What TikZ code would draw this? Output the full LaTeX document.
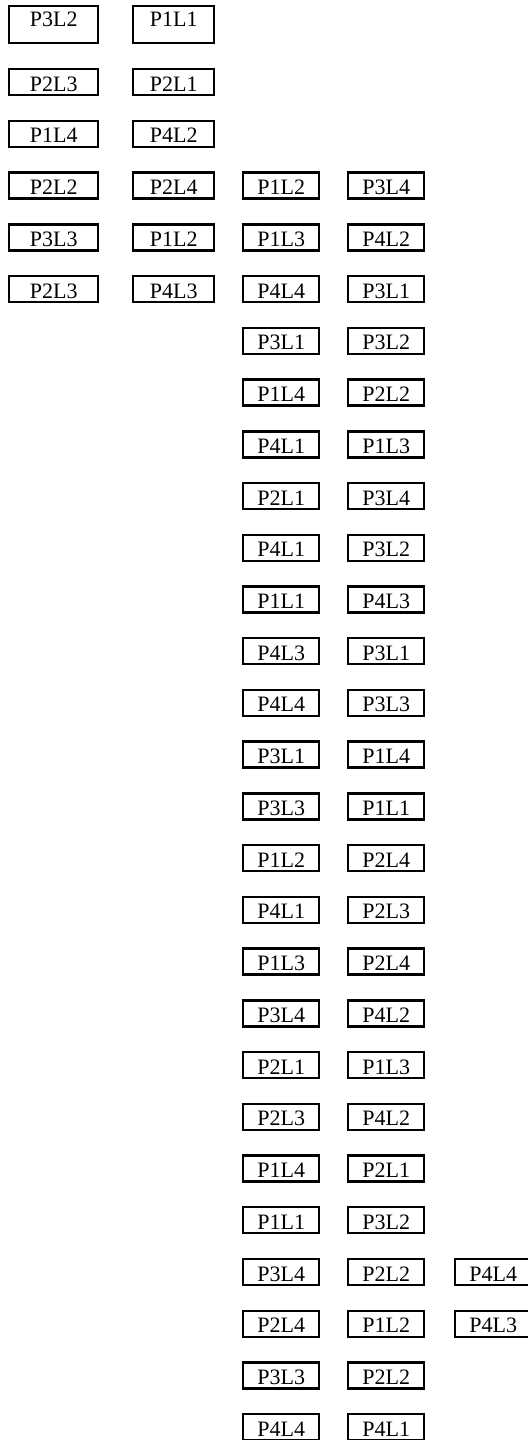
\documentclass[tikz,border=0pt]{standalone}
\usepackage{fontspec}
\setmainfont{Liberation Serif}
\begin{document}
\begin{tikzpicture}[x=0.5pt, y=-0.5pt,
    casilla/.style={draw, line width=1.2pt, inner sep=0pt, anchor=north west,
      text height=11pt, text depth=2pt, font=\fontsize{11}{13}\selectfont},
    primera/.style={casilla, text height=10pt, text depth=8.5pt}]
  \useasboundingbox (0,0) rectangle (527,1440);
  % fila de arriba, mas alta
  \node[primera, minimum width=44.5pt] (a1) at (8,5) {P3L2};
  \node[primera, minimum width=40.5pt] (b1) at (132,5) {P1L1};
  % columnas 1 y 2
  \foreach \p/\q [count=\i from 2] in {P2L3/P2L1, P1L4/P4L2, P2L2/P2L4,
      P3L3/P1L2, P2L3/P4L3} {
    \node[casilla, minimum width=44.5pt] (a\i) at (8,{68+(\i-2)*51.73}) {\p};
    \node[casilla, minimum width=40.5pt] (b\i) at (132,{68+(\i-2)*51.73}) {\q};
  }
  % columnas 3 y 4
  \foreach \p/\q [count=\i from 4] in {P1L2/P3L4, P1L3/P4L2, P4L4/P3L1,
      P3L1/P3L2, P1L4/P2L2, P4L1/P1L3, P2L1/P3L4, P4L1/P3L2, P1L1/P4L3,
      P4L3/P3L1, P4L4/P3L3, P3L1/P1L4, P3L3/P1L1, P1L2/P2L4, P4L1/P2L3,
      P1L3/P2L4, P3L4/P4L2, P2L1/P1L3, P2L3/P4L2, P1L4/P2L1, P1L1/P3L2,
      P3L4/P2L2, P2L4/P1L2, P3L3/P2L2, P4L4/P4L1} {
    \node[casilla, minimum width=38pt] (c\i) at (242,{68+(\i-2)*51.73}) {\p};
    \node[casilla, minimum width=38pt] (d\i) at (347,{68+(\i-2)*51.73}) {\q};
  }
  % columna 5, cortada por el borde
  \node[casilla, minimum width=38pt] (e25) at (454,{68+23*51.73}) {P4L4};
  \node[casilla, minimum width=38pt] (e26) at (454,{68+24*51.73}) {P4L3};
\end{tikzpicture}
\end{document}
